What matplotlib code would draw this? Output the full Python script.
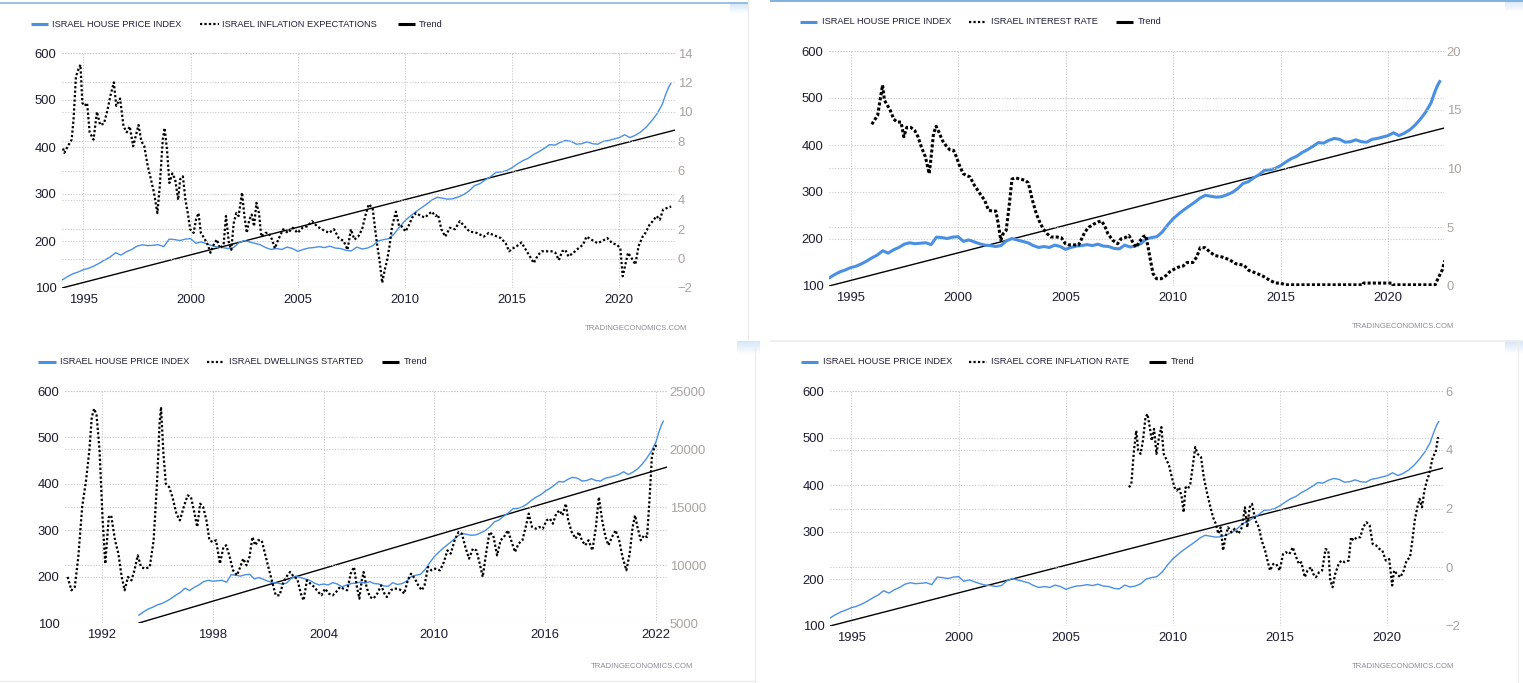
import matplotlib
matplotlib.use('Agg')
import matplotlib.pyplot as plt
import numpy as np
from matplotlib.lines import Line2D

# ---------------- DATA ----------------
house_years = [1994.0, 1994.25, 1994.5, 1994.75, 1995.0, 1995.25, 1995.5, 1995.75, 1996.0, 1996.25,
               1996.5, 1996.75, 1997.0, 1997.25, 1997.5, 1997.75, 1998.0, 1998.25, 1998.5, 1998.75,
               1999.0, 1999.25, 1999.5, 1999.75, 2000.0, 2000.25, 2000.5, 2000.75, 2001.0, 2001.25,
               2001.5, 2001.75, 2002.0, 2002.25, 2002.5, 2002.75, 2003.0, 2003.25, 2003.5, 2003.75,
               2004.0, 2004.25, 2004.5, 2004.75, 2005.0, 2005.25, 2005.5, 2005.75, 2006.0, 2006.25,
               2006.5, 2006.75, 2007.0, 2007.25, 2007.5, 2007.75, 2008.0, 2008.25, 2008.5, 2008.75,
               2009.0, 2009.25, 2009.5, 2009.75, 2010.0, 2010.25, 2010.5, 2010.75, 2011.0, 2011.25,
               2011.5, 2011.75, 2012.0, 2012.25, 2012.5, 2012.75, 2013.0, 2013.25, 2013.5, 2013.75,
               2014.0, 2014.25, 2014.5, 2014.75, 2015.0, 2015.25, 2015.5, 2015.75, 2016.0, 2016.25,
               2016.5, 2016.75, 2017.0, 2017.25, 2017.5, 2017.75, 2018.0, 2018.25, 2018.5, 2018.75,
               2019.0, 2019.25, 2019.5, 2019.75, 2020.0, 2020.25, 2020.5, 2020.75, 2021.0, 2021.25,
               2021.5, 2021.75, 2022.0, 2022.15, 2022.3, 2022.4]
house_values = [117, 124, 130, 134, 139, 142, 147, 153, 160, 166,
                175, 170, 177, 182, 189, 192, 190, 191, 192, 188,
                204, 203, 201, 204, 205, 195, 198, 194, 190, 187,
                186, 184, 186, 196, 201, 198, 195, 192, 186, 182,
                184, 182, 187, 184, 178, 182, 185, 186, 188, 186,
                189, 185, 184, 180, 179, 187, 183, 185, 190, 200,
                203, 205, 215, 230, 243, 253, 262, 270, 278, 287,
                293, 291, 289, 290, 294, 299, 307, 318, 322, 330,
                337, 346, 347, 350, 356, 364, 371, 376, 384, 390,
                397, 405, 404, 410, 414, 412, 406, 407, 411, 407,
                406, 412, 414, 417, 420, 426, 420, 425, 432, 442,
                455, 470, 490, 510, 527, 535]

trend_years = [1994.0, 2022.6]
trend_values = [100, 436]

infl_years = [1994.05, 1994.11, 1994.27, 1994.45, 1994.54, 1994.65, 1994.77, 1994.86, 1994.95, 1995.06,
              1995.17, 1995.29, 1995.47, 1995.63, 1995.78, 1995.96, 1996.12, 1996.26, 1996.42, 1996.53,
              1996.71, 1996.87, 1997.02, 1997.16, 1997.32, 1997.43, 1997.57, 1997.70, 1997.84, 1998.00,
              1998.15, 1998.29, 1998.45, 1998.56, 1998.70, 1998.79, 1998.90, 1999.01, 1999.15, 1999.28,
              1999.42, 1999.51, 1999.64, 1999.76, 1999.87, 1999.98, 2000.14, 2000.25, 2000.37, 2000.48,
              2000.59, 2000.77, 2000.93, 2001.04, 2001.22, 2001.38, 2001.54, 2001.65, 2001.79, 2001.90,
              2002.01, 2002.13, 2002.24, 2002.40, 2002.51, 2002.62, 2002.74, 2002.85, 2002.96, 2003.07,
              2003.19, 2003.30, 2003.48, 2003.64, 2003.80, 2003.93, 2004.09, 2004.32, 2004.54, 2004.77,
              2004.99, 2005.22, 2005.44, 2005.67, 2005.90, 2006.12, 2006.46, 2006.69, 2006.91, 2007.14,
              2007.32, 2007.48, 2007.64, 2007.82, 2008.00, 2008.15, 2008.31, 2008.49, 2008.67, 2008.83,
              2008.94, 2009.06, 2009.17, 2009.28, 2009.40, 2009.58, 2009.73, 2009.85, 2010.03, 2010.19,
              2010.34, 2010.52, 2010.75, 2010.93, 2011.09, 2011.25, 2011.43, 2011.54, 2011.70, 2011.88,
              2012.10, 2012.33, 2012.56, 2012.78, 2013.01, 2013.35, 2013.68, 2013.91, 2014.14, 2014.47,
              2014.70, 2014.86, 2015.04, 2015.22, 2015.44, 2015.60, 2015.83, 2016.01, 2016.21, 2016.39,
              2016.62, 2016.84, 2017.02, 2017.18, 2017.34, 2017.48, 2017.63, 2017.86, 2018.09, 2018.31,
              2018.47, 2018.69, 2018.99, 2019.21, 2019.44, 2019.67, 2019.89, 2020.05, 2020.16, 2020.30,
              2020.41, 2020.57, 2020.75, 2020.90, 2021.09, 2021.22, 2021.41, 2021.56, 2021.74, 2021.89,
              2022.05, 2022.23, 2022.42]
infl_values = [7.5, 7.2, 7.65, 8.1, 9.5, 12.4, 12.9, 13.2, 10.6, 10.4,
               10.6, 8.6, 8.1, 10.0, 9.1, 9.2, 10.1, 11.1, 12.0, 10.4,
               10.9, 9.0, 8.6, 9.0, 7.65, 8.3, 9.1, 8.0, 7.65, 6.3,
               5.4, 4.5, 3.1, 4.9, 8.1, 8.9, 7.4, 5.15, 5.8, 5.4,
               4.0, 5.4, 5.6, 4.0, 3.1, 2.0, 1.75, 2.65, 3.1, 1.75,
               1.5, 1.05, 0.4, 0.85, 1.3, 0.7, 0.95, 2.9, 1.05, 0.6,
               2.4, 3.1, 2.9, 4.5, 2.9, 1.75, 2.65, 3.0, 2.2, 3.8,
               3.1, 1.5, 1.75, 1.75, 1.3, 0.7, 1.3, 2.0, 1.75, 2.1,
               1.75, 2.1, 2.2, 2.55, 2.2, 2.0, 1.75, 2.0, 1.4, 1.2,
               0.6, 2.0, 1.3, 1.5, 2.0, 2.9, 3.7, 3.45, 1.3, -0.3,
               -1.65, -0.75, -0.1, 0.85, 2.2, 3.2, 2.2, 2.2, 1.85, 2.3,
               2.8, 3.1, 2.9, 2.8, 3.0, 3.2, 2.9, 3.0, 2.0, 1.5,
               2.1, 2.0, 2.55, 2.2, 1.85, 1.75, 1.5, 1.75, 1.6, 1.4,
               1.05, 0.5, 0.7, 0.85, 1.1, 0.7, 0.15, -0.3, 0.25, 0.5,
               0.5, 0.5, 0.4, -0.1, 0.5, 0.6, 0.15, 0.4, 0.7, 0.95,
               1.5, 1.3, 1.05, 1.2, 1.4, 1.05, 0.95, 0.7, -1.2, -0.3,
               0.4, 0.05, -0.4, 0.85, 1.5, 1.75, 2.3, 2.55, 2.9, 2.65,
               3.35, 3.45, 3.55]

rate_years = [1995.99, 1996.13, 1996.26, 1996.40, 1996.49, 1996.58, 1996.71, 1996.85, 1997.01, 1997.17,
              1997.35, 1997.48, 1997.62, 1997.80, 1997.98, 1998.14, 1998.30, 1998.48, 1998.66, 1998.75,
              1998.86, 1998.98, 1999.11, 1999.27, 1999.43, 1999.61, 1999.79, 1999.90, 2000.06, 2000.24,
              2000.40, 2000.56, 2000.76, 2000.92, 2001.08, 2001.24, 2001.42, 2001.60, 2001.76, 2001.87,
              2001.99, 2002.10, 2002.24, 2002.37, 2002.51, 2002.67, 2002.89, 2003.12, 2003.27, 2003.46,
              2003.64, 2003.80, 2003.95, 2004.14, 2004.32, 2004.59, 2004.81, 2004.99, 2005.15, 2005.38,
              2005.61, 2005.72, 2005.90, 2006.08, 2006.29, 2006.51, 2006.67, 2006.81, 2006.97, 2007.19,
              2007.42, 2007.57, 2007.76, 2007.94, 2008.05, 2008.16, 2008.28, 2008.43, 2008.59, 2008.73,
              2008.84, 2008.95, 2009.07, 2009.23, 2009.45, 2009.68, 2009.84, 2010.02, 2010.24, 2010.47,
              2010.65, 2010.92, 2011.10, 2011.26, 2011.49, 2011.71, 2011.94, 2012.28, 2012.62, 2012.91,
              2013.30, 2013.52, 2013.86, 2014.20, 2014.50, 2014.77, 2015.00, 2015.22, 2018.84, 2018.86,
              2020.20, 2020.22, 2022.19, 2022.35, 2022.51, 2022.64]
rate_values = [13.76, 14.16, 14.5, 16.1, 17.1, 15.8, 15.4, 14.95, 14.2, 13.95,
               13.95, 12.7, 13.5, 13.5, 13.25, 12.7, 11.8, 11.0, 9.56, 11.0,
               12.96, 13.6, 13.1, 12.4, 11.97, 11.6, 11.55, 11.1, 10.3, 9.56,
               9.4, 9.28, 8.57, 8.14, 7.7, 7.3, 6.44, 6.38, 6.38, 5.3,
               3.9, 4.45, 4.74, 6.7, 9.1, 9.2, 9.1, 9.0, 8.77, 7.3,
               6.15, 5.45, 4.9, 4.45, 4.17, 4.17, 4.1, 3.6, 3.5, 3.5,
               3.5, 3.9, 4.6, 5.0, 5.25, 5.45, 5.53, 5.16, 4.45, 3.9,
               3.6, 4.0, 4.1, 4.3, 4.0, 3.6, 3.3, 3.74, 4.17, 4.3,
               3.3, 2.18, 1.05, 0.62, 0.62, 0.9, 1.2, 1.4, 1.6, 1.7,
               2.0, 2.0, 2.47, 3.26, 3.26, 2.9, 2.6, 2.47, 2.24, 1.9,
               1.76, 1.33, 1.1, 0.82, 0.48, 0.25, 0.25, 0.1, 0.1, 0.25,
               0.25, 0.1, 0.1, 0.75, 1.33, 2.18]

dwell_years = [1990.14, 1990.35, 1990.53, 1990.72, 1990.93, 1991.14, 1991.32, 1991.45, 1991.58, 1991.71,
               1991.87, 1992.03, 1992.18, 1992.37, 1992.50, 1992.71, 1992.89, 1993.07, 1993.23, 1993.41,
               1993.60, 1993.76, 1993.94, 1994.12, 1994.33, 1994.59, 1994.80, 1994.99, 1995.12, 1995.20,
               1995.33, 1995.46, 1995.64, 1995.82, 1996.03, 1996.22, 1996.43, 1996.64, 1996.82, 1997.00,
               1997.16, 1997.32, 1997.48, 1997.66, 1997.82, 1998.00, 1998.18, 1998.39, 1998.58, 1998.73,
               1998.92, 1999.10, 1999.31, 1999.49, 1999.65, 1999.83, 1999.99, 2000.15, 2000.30, 2000.46,
               2000.65, 2000.83, 2001.01, 2001.20, 2001.41, 2001.62, 2001.80, 2001.98, 2002.19, 2002.40,
               2002.58, 2002.77, 2002.92, 2003.10, 2003.29, 2003.50, 2003.71, 2003.89, 2004.08, 2004.29,
               2004.50, 2004.68, 2004.89, 2005.07, 2005.28, 2005.47, 2005.65, 2005.81, 2005.94, 2006.07,
               2006.17, 2006.33, 2006.51, 2006.70, 2006.91, 2007.12, 2007.30, 2007.43, 2007.64, 2007.82,
               2008.01, 2008.22, 2008.37, 2008.56, 2008.74, 2008.95, 2009.13, 2009.32, 2009.47, 2009.66,
               2009.84, 2010.05, 2010.31, 2010.52, 2010.71, 2010.89, 2011.10, 2011.31, 2011.49, 2011.68,
               2011.88, 2012.09, 2012.28, 2012.46, 2012.62, 2012.80, 2012.99, 2013.19, 2013.40, 2013.59,
               2013.77, 2013.98, 2014.16, 2014.37, 2014.56, 2014.77, 2014.95, 2015.11, 2015.29, 2015.50,
               2015.68, 2015.87, 2016.08, 2016.26, 2016.42, 2016.60, 2016.78, 2016.94, 2017.12, 2017.25,
               2017.44, 2017.65, 2017.83, 2017.99, 2018.17, 2018.35, 2018.56, 2018.75, 2018.91, 2019.09,
               2019.27, 2019.43, 2019.62, 2019.82, 2020.01, 2020.19, 2020.40, 2020.58, 2020.74, 2020.87,
               2021.00, 2021.18, 2021.36, 2021.52, 2021.65, 2021.78, 2021.91, 2022.04]
dwell_values = [8970, 7820, 8100, 10690, 15000, 17300, 19900, 22760, 23480, 22900,
                19900, 14140, 10100, 14140, 14280, 12130, 10980, 8970, 7820, 8970,
                8680, 9540, 10830, 9830, 9680, 9830, 12130, 17300, 22180, 23620,
                19600, 17000, 16720, 15860, 14430, 13850, 15000, 16000, 15860, 14570,
                13280, 15290, 15000, 13850, 12130, 11980, 12130, 10110, 11550, 11700,
                10690, 9540, 9110, 9830, 10550, 9970, 10690, 12410, 11700, 12130,
                12130, 10980, 9830, 8680, 7390, 7390, 8390, 8970, 9400, 8970,
                8820, 7530, 6950, 8680, 8390, 8100, 7670, 7390, 7960, 7530,
                7390, 7670, 8100, 7960, 7820, 9250, 9830, 8100, 7100, 8680,
                9400, 8100, 7240, 7100, 7530, 8250, 7530, 7240, 7820, 7960,
                7960, 7820, 7530, 8680, 9250, 8820, 8250, 7820, 8250, 9830,
                9540, 9680, 9540, 10260, 11260, 10980, 12130, 12840, 12700, 11550,
                10550, 11410, 11260, 10110, 8970, 10980, 12840, 12560, 10830, 12130,
                12410, 12990, 12130, 11120, 11840, 12130, 13280, 14430, 13280, 13130,
                13280, 13130, 13850, 13990, 13560, 14430, 14710, 14280, 15290, 13850,
                12840, 12270, 12840, 12130, 11700, 12130, 11260, 13280, 15860, 13850,
                12410, 11700, 12410, 12990, 12130, 10690, 9540, 10980, 13280, 14280,
                13280, 12130, 12560, 12410, 15570, 19310, 20170, 20320]

core_years = [2007.95, 2008.06, 2008.18, 2008.29, 2008.38, 2008.49, 2008.60, 2008.72, 2008.81, 2008.92,
              2009.01, 2009.12, 2009.23, 2009.35, 2009.46, 2009.57, 2009.68, 2009.82, 2009.95, 2010.07,
              2010.18, 2010.29, 2010.41, 2010.50, 2010.59, 2010.70, 2010.81, 2010.92, 2011.04, 2011.15,
              2011.31, 2011.44, 2011.60, 2011.71, 2011.87, 2012.00, 2012.12, 2012.23, 2012.34, 2012.45,
              2012.57, 2012.73, 2012.88, 2013.06, 2013.22, 2013.36, 2013.47, 2013.58, 2013.69, 2013.85,
              2014.01, 2014.14, 2014.30, 2014.41, 2014.53, 2014.68, 2014.82, 2014.98, 2015.14, 2015.27,
              2015.43, 2015.59, 2015.72, 2015.88, 2015.99, 2016.15, 2016.28, 2016.44, 2016.55, 2016.67,
              2016.82, 2016.96, 2017.12, 2017.25, 2017.34, 2017.45, 2017.57, 2017.73, 2017.86, 2018.02,
              2018.20, 2018.31, 2018.42, 2018.58, 2018.74, 2018.87, 2019.03, 2019.18, 2019.32, 2019.48,
              2019.64, 2019.77, 2019.93, 2020.09, 2020.23, 2020.32, 2020.45, 2020.61, 2020.77, 2020.90,
              2021.06, 2021.17, 2021.28, 2021.40, 2021.51, 2021.62, 2021.73, 2021.85, 2021.96, 2022.12,
              2022.26, 2022.37]
core_values = [2.72, 2.84, 3.97, 4.65, 3.97, 3.86, 4.31, 5.11, 5.22, 4.77,
               4.31, 4.71, 3.86, 4.43, 4.77, 3.86, 3.69, 3.46, 3.06, 2.72,
               2.61, 2.72, 2.38, 1.87, 2.72, 2.67, 2.84, 3.41, 4.09, 3.86,
               3.75, 3.06, 2.50, 2.16, 1.70, 1.48, 1.14, 1.36, 0.57, 1.02,
               1.36, 1.19, 1.31, 1.14, 1.36, 2.04, 1.36, 2.04, 2.16, 1.59,
               1.36, 0.91, 0.57, 0.23, -0.11, 0.11, 0.11, -0.11, 0.45, 0.51,
               0.45, 0.68, 0.40, 0.11, 0.17, -0.34, -0.11, 0.0, -0.23, -0.34,
               -0.17, -0.11, 0.62, 0.57, -0.45, -0.68, -0.23, 0.11, 0.23, 0.17,
               0.23, 1.02, 0.91, 1.02, 1.02, 1.36, 1.53, 1.42, 0.79, 0.74,
               0.62, 0.57, 0.23, 0.28, -0.62, -0.11, -0.23, -0.34, -0.11, 0.23,
               0.34, 0.91, 1.59, 2.04, 2.33, 2.04, 2.61, 2.95, 3.18, 3.75,
               3.92, 4.43]

left_ticks = [100, 200, 300, 400, 500, 600]
x_ticks_a = [1995, 2000, 2005, 2010, 2015, 2020]
x_ticks_b = [1992, 1998, 2004, 2010, 2016, 2022]

labels_house = "ISRAEL HOUSE PRICE INDEX"
labels_trend = "Trend"
watermark = "TRADINGECONOMICS.COM"

# ---------------- STYLE ----------------
W, H = 1523, 683
BLUE = '#4a90e2'
GRID = '#c9c9c9'
LEFTC = '#1c1c34'
RIGHTC = '#a9a39d'
plt.rcParams['font.family'] = ['Liberation Sans Narrow', 'Liberation Sans', 'DejaVu Sans']

fig = plt.figure(figsize=(W / 100, H / 100), dpi=100)
fig.patch.set_facecolor('white')


def rect(l, t, r, b):
    return [l / W, 1 - b / H, (r - l) / W, (b - t) / H]


panels = [
    dict(box=(62, 53, 675, 288), xlim=(1994.0, 2022.6), xt=x_ticks_a,
         rlim=(-2, 14), rt=list(range(-2, 15, 2)), sx=infl_years, sy=infl_values,
         name="ISRAEL INFLATION EXPECTATIONS", hp_lw=1.0, dot_lw=1.6, dot_ls=(0, (1, 1)),
         leg=(24.3, 31, 48, 52, 200, 219, 222, 398, 415, 419), wm=(687, 329)),
    dict(box=(829, 51, 1444, 286), xlim=(1994.0, 2022.6), xt=x_ticks_a,
         rlim=(0, 20), rt=[0, 5, 10, 15, 20], sx=rate_years, sy=rate_values,
         name="ISRAEL INTEREST RATE", hp_lw=2.2, dot_lw=2.2, dot_ls=(0, (1, 0.7)),
         leg=(21.7, 800, 817, 822, 969, 986, 991, 1116, 1133, 1138), wm=(1454, 326)),
    dict(box=(65, 391, 667, 623), xlim=(1990.0, 2022.6), xt=x_ticks_b,
         rlim=(5000, 25000), rt=[5000, 10000, 15000, 20000, 25000], sx=dwell_years, sy=dwell_values,
         name="ISRAEL DWELLINGS STARTED", hp_lw=1.0, dot_lw=1.6, dot_ls=(0, (1, 1)),
         leg=(361.7, 38, 56, 60, 207, 224, 229, 382, 399, 404), wm=(693, 666)),
    dict(box=(830, 391, 1443, 626), xlim=(1994.0, 2022.6), xt=x_ticks_a,
         rlim=(-2, 6), rt=[-2, 0, 2, 4, 6], sx=core_years, sy=core_values,
         name="ISRAEL CORE INFLATION RATE", hp_lw=1.0, dot_lw=1.6, dot_ls=(0, (1, 1)),
         leg=(361.7, 801, 818, 823, 969, 987, 991, 1149, 1166, 1171), wm=(1454, 666)),
]

grid_kw = dict(color=GRID, linestyle=(0, (1, 1.5)), linewidth=0.8)

for p in panels:
    ax = fig.add_axes(rect(*p['box']))
    ax2 = ax.twinx()
    for a in (ax, ax2):
        a.set_facecolor('none')
        for s in a.spines.values():
            s.set_visible(False)
    ax.set_xlim(*p['xlim'])
    ax.set_ylim(100, 600)
    ax.set_yticks(left_ticks)
    ax.set_xticks(p['xt'])
    ax2.set_ylim(*p['rlim'])
    ax2.set_yticks(p['rt'])
    ax.tick_params(axis='both', length=0, labelsize=9.4, colors=LEFTC)
    ax.tick_params(axis='x', pad=4.6)
    ax.tick_params(axis='y', pad=4.0)
    ax2.tick_params(axis='y', length=0, labelsize=9.4, colors=RIGHTC, pad=2.0)
    ax.grid(True, axis='both', **grid_kw)
    ax2.grid(True, axis='y', **grid_kw)
    ax.set_axisbelow(True)
    ax2.set_axisbelow(True)

    ax.plot(trend_years, trend_values, color='black', lw=1.0, zorder=3)
    ax.plot(house_years, house_values, color=BLUE, lw=p['hp_lw'], zorder=4)
    ax2.plot(p['sx'], p['sy'], color='black', lw=p['dot_lw'], linestyle=p['dot_ls'],
             dash_capstyle='butt', zorder=5)

# overlay for legend, watermark, frame decorations (pixel coordinates)
deco = fig.add_axes([0, 0, 1, 1], zorder=10)
deco.set_xlim(0, W)
deco.set_ylim(H, 0)
deco.axis('off')
deco.patch.set_alpha(0)

leg_font = ['Liberation Sans', 'DejaVu Sans']
for p in panels:
    y, b1, b2, t1, d1, d2, t2, r1, r2, t3 = p['leg']
    deco.plot([b1, b2], [y, y], color=BLUE, lw=2.2, solid_capstyle='butt')
    deco.text(t1, y, labels_house, fontsize=6.7, color='#20203a', va='center', ha='left', family=leg_font)
    deco.plot([d1, d2], [y, y], color='black', lw=1.6, linestyle=(0, (1, 1)), dash_capstyle='butt')
    deco.text(t2, y, p['name'], fontsize=6.7, color='#20203a', va='center', ha='left', family=leg_font)
    deco.plot([r1, r2], [y, y], color='black', lw=2.2, solid_capstyle='butt')
    deco.text(t3, y, labels_trend, fontsize=6.7, color='#20203a', va='center', ha='left', family=leg_font)
    wx, wy = p['wm']
    deco.text(wx, wy, watermark, fontsize=5.6, color='#8c8c9c', va='center', ha='right', family=leg_font)

edge = '#ececec'
deco.plot([0, 748], [3.3, 3.3], color='#7fb0e0', lw=1.1)
deco.plot([771, W], [0.6, 0.6], color='#7fb0e0', lw=1.4)
deco.plot([748.5, 748.5], [0, 340], color=edge, lw=0.9)
deco.plot([771, W], [341, 341], color=edge, lw=1.2)
deco.plot([755, 755], [341, H], color=edge, lw=0.9)
deco.plot([0, 755], [681, 681], color=edge, lw=1.0)
deco.plot([1518, 1518], [341, H], color=edge, lw=0.9)

grad = np.linspace(0, 1, 32).reshape(-1, 1)
for (x0, x1, y0, y1) in [(730, 748, 3.5, 14), (737, 760, 341.5, 355), (1505, 1523, 0, 12), (1505, 1523, 341.5, 354)]:
    deco.imshow(grad, extent=(x0, x1, y1, y0), cmap=matplotlib.colors.LinearSegmentedColormap.from_list(
        'g', ['#d6e6f8', '#ffffff']), aspect='auto', interpolation='bilinear', zorder=1)
deco.set_xlim(0, W)
deco.set_ylim(H, 0)

fig.savefig('out.png', dpi=100, facecolor='white')
